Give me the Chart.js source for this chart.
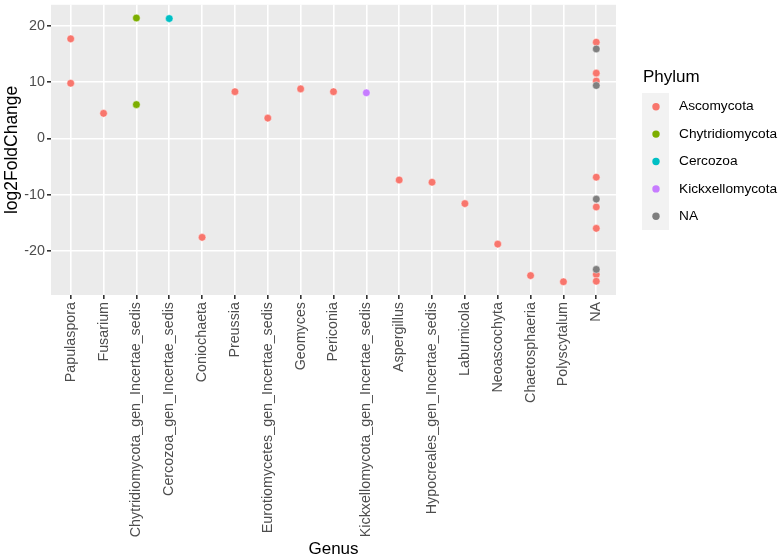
<!DOCTYPE html>
<html>
<head>
<meta charset="utf-8">
<script src="https://cdn.jsdelivr.net/npm/chart.js@4/dist/chart.umd.min.js"></script>
<style>
  html, body { margin: 0; padding: 0; background: #fff; }
  #wrap { width: 782px; height: 556px; }
</style>
</head>
<body>
<div id="wrap"><canvas id="grafico"></canvas></div>
<script>
const genera = ['Papulaspora', 'Fusarium', 'Chytridiomycota_gen_Incertae_sedis', 'Cercozoa_gen_Incertae_sedis',
  'Coniochaeta', 'Preussia', 'Eurotiomycetes_gen_Incertae_sedis', 'Geomyces', 'Periconia',
  'Kickxellomycota_gen_Incertae_sedis', 'Aspergillus', 'Hypocreales_gen_Incertae_sedis', 'Laburnicola',
  'Neoascochyta', 'Chaetosphaeria', 'Polyscytalum', 'NA'];

const yTicks = [-20, -10, 0, 10, 20];

const ascoGenus = ['Papulaspora', 'Papulaspora', 'Fusarium', 'Coniochaeta', 'Preussia', 'Eurotiomycetes_gen_Incertae_sedis',
  'Geomyces', 'Periconia', 'Aspergillus', 'Hypocreales_gen_Incertae_sedis', 'Laburnicola', 'Neoascochyta',
  'Chaetosphaeria', 'Polyscytalum', 'NA', 'NA', 'NA', 'NA', 'NA', 'NA', 'NA', 'NA'];
const ascoLfc = [17.7, 9.8, 4.45, -17.6, 8.3, 3.6, 8.8, 8.3, -7.4, -7.8, -11.6, -18.8, -24.4, -25.5,
  17.1, 11.6, 10.2, -6.9, -12.2, -16.0, -24.2, -25.4];

const chytGenus = ['Chytridiomycota_gen_Incertae_sedis', 'Chytridiomycota_gen_Incertae_sedis'];
const chytLfc = [21.4, 6.0];

const cercGenus = ['Cercozoa_gen_Incertae_sedis'];
const cercLfc = [21.3];

const kickGenus = ['Kickxellomycota_gen_Incertae_sedis'];
const kickLfc = [8.1];

const naGenus = ['NA', 'NA', 'NA', 'NA'];
const naLfc = [15.9, 9.4, -10.8, -23.3];

const phyla = ['Ascomycota', 'Chytridiomycota', 'Cercozoa', 'Kickxellomycota', 'NA'];
const phylumColors = ['#F8766D', '#7CAE00', '#00BFC4', '#C77CFF', '#7F7F7F'];

function pts(g, v) {
  return g.map((name, i) => ({ x: genera.indexOf(name), y: v[i] }));
}

const series = [pts(ascoGenus, ascoLfc), pts(chytGenus, chytLfc), pts(cercGenus, cercLfc),
  pts(kickGenus, kickLfc), pts(naGenus, naLfc)];

const FONT = "'Liberation Sans', Arial, Helvetica, sans-serif";

// ggplot style legend with grey key boxes
const phylumLegend = {
  id: 'phylumLegend',
  afterDraw(chart) {
    const ctx = chart.ctx;
    const left = chart.chartArea.right + 26;
    const top = 93;
    const key = 27.4;
    ctx.save();
    ctx.fillStyle = '#000';
    ctx.font = '17px ' + FONT;
    ctx.textBaseline = 'middle';
    ctx.textAlign = 'left';
    ctx.fillText('Phylum', left + 1, 77);
    ctx.fillStyle = '#F2F2F2';
    ctx.fillRect(left, top, 27, key * phyla.length);
    ctx.font = '13.7px ' + FONT;
    chart.data.datasets.forEach((ds, i) => {
      const cy = top + key * i + key / 2;
      ctx.beginPath();
      ctx.arc(left + 14, cy, 3.7, 0, Math.PI * 2);
      ctx.fillStyle = ds.backgroundColor;
      ctx.fill();
      ctx.fillStyle = '#000';
      ctx.fillText(ds.label, left + 37, cy);
    });
    ctx.restore();
  }
};

const panelBg = {
  id: 'panelBg',
  beforeDraw(chart) {
    const a = chart.chartArea;
    chart.ctx.save();
    chart.ctx.fillStyle = '#EBEBEB';
    chart.ctx.fillRect(a.left, a.top, a.right - a.left, a.bottom - a.top);
    chart.ctx.restore();
  }
};

const grafico = document.getElementById('grafico').getContext('2d');
const myChart = new Chart(grafico, {
  type: 'scatter',
  data: {
    datasets: phyla.map((p, i) => ({
      label: p,
      data: series[i],
      backgroundColor: phylumColors[i],
      borderColor: 'rgba(255,255,255,0.55)',
      borderWidth: 0.8,
      pointRadius: 3.8,
      order: p === 'NA' ? 0 : 1
    }))
  },
  options: {
    responsive: true,
    maintainAspectRatio: false,
    animation: false,
    layout: { padding: { left: 0, right: 166, top: 2, bottom: 0 } },
    plugins: {
      legend: { display: false },
      tooltip: { enabled: false }
    },
    scales: {
      x: {
        type: 'linear',
        min: -0.6,
        max: genera.length - 1 + 0.6,
        afterBuildTicks: (s) => { s.ticks = genera.map((g, i) => ({ value: i })); },
        afterFit: (s) => { s.height = 261; s.paddingLeft = 0; s.paddingRight = 0; },
        grid: { color: '#FFFFFF', lineWidth: 1.6, tickColor: '#333333', tickLength: 4, drawTicks: true },
        border: { display: false },
        ticks: {
          autoSkip: false,
          maxRotation: 90,
          minRotation: 90,
          padding: 3,
          color: '#4D4D4D',
          font: { family: FONT, size: 14.3 },
          callback: (v) => genera[v]
        },
        title: { display: true, text: 'Genus', color: '#000', font: { family: FONT, size: 17 }, padding: { top: 0, bottom: -4 } }
      },
      y: {
        min: -27.85,
        max: 23.75,
        afterBuildTicks: (s) => { s.ticks = yTicks.map((v) => ({ value: v })); },
        afterFit: (s) => { s.width = 51; s.paddingTop = 0; s.paddingBottom = 0; },
        grid: { color: '#FFFFFF', lineWidth: 1.6, tickColor: '#333333', tickLength: 4, drawTicks: true },
        border: { display: false },
        ticks: {
          padding: 2,
          color: '#4D4D4D',
          font: { family: FONT, size: 14.3 }
        },
        title: { display: true, text: 'log2FoldChange', color: '#000', font: { family: FONT, size: 17.5 }, padding: { top: 2, bottom: 0 } }
      }
    }
  },
  plugins: [panelBg, phylumLegend]
});
</script>
</body>
</html>
